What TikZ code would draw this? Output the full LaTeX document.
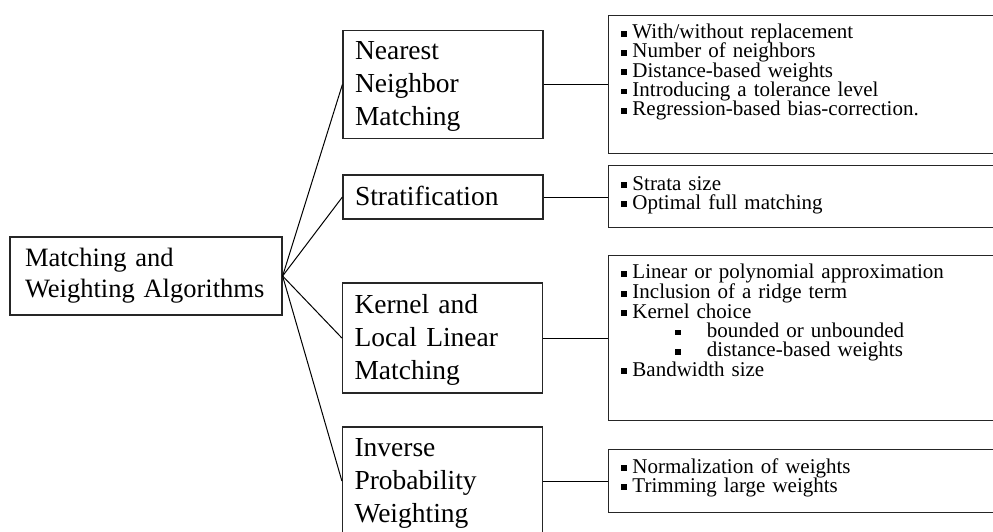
\documentclass[tikz,border=0pt]{standalone}
\usepackage{fontspec}
\setmainfont{Liberation Serif}
\newcommand{\sqbul}{\rule[0.1em]{0.28em}{0.28em}}
\newcommand{\itm}[1]{\sqbul\hspace{5.5pt}#1}
\newcommand{\subitm}[1]{\hspace{54pt}\sqbul\hspace{26pt}#1}
\begin{document}
\begin{tikzpicture}[x=1pt,y=-1pt,line width=1pt,
  box/.style={draw,line width=1.2pt,draw=black!85,inner ysep=0pt},
  mainbox/.style={box,minimum width=272pt,minimum height=78pt,inner xsep=15pt,text width=242pt,align=left,font=\fontsize{26.5}{31}\selectfont},
  midbox/.style={box,minimum width=200pt,minimum height=108pt,inner xsep=12pt,text width=176pt,text height=22pt,align=left,font=\fontsize{27.5}{33}\selectfont},
  listbox/.style={box,anchor=north west,inner xsep=13pt,inner ysep=4pt,text width=400pt,align=left,font=\fontsize{21}{19.3}\selectfont}]

\useasboundingbox (0,0) rectangle (993,531);
\clip (0,0) rectangle (993,531);

% racine
\node [mainbox] (algo) at (146,276) {Matching and\\Weighting Algorithms};

% methodes
\node [midbox] (nn) at (443,84.5) {Nearest\\Neighbor\\Matching};
\node [midbox,minimum height=44pt,text height=18pt] (strat) at (443,197) {Stratification};
\node [midbox,minimum height=110pt] (kern) at (442.5,338) {Kernel and\\Local Linear\\Matching};
\node [midbox] (ipw) at (442.5,481) {Inverse\\Probability\\Weighting};

% options
\node [listbox,text height=19pt,text depth=111pt] (nnopt) at (607.5,15) {\itm{With/without replacement}\\\itm{Number of neighbors}\\\itm{Distance-based weights}\\\itm{Introducing a tolerance level}\\\itm{Regression-based bias-correction.}};
\node [listbox,text height=20.5pt,text depth=33.5pt] (stratopt) at (607.5,165) {\itm{Strata size}\\\itm{Optimal full matching}};
\node [listbox,text height=19pt,text depth=138pt] (kernopt) at (607.5,255) {\itm{Linear or polynomial approximation}\\\itm{Inclusion of a ridge term}\\\itm{Kernel choice}\\\subitm{bounded or unbounded}\\\subitm{distance-based weights}\\\itm{Bandwidth size}};
\node [listbox,text height=19.5pt,text depth=35.5pt] (ipwopt) at (607.5,449) {\itm{Normalization of weights}\\\itm{Trimming large weights}};

% liens
\draw (algo.east) -- (nn.west);
\draw (algo.east) -- (strat.west);
\draw (algo.east) -- (kern.west);
\draw (algo.east) -- (ipw.west);
\draw (nn.east) -- (nn.east -| nnopt.west);
\draw (strat.east) -- (strat.east -| stratopt.west);
\draw (kern.east) -- (kern.east -| kernopt.west);
\draw (ipw.east) -- (ipw.east -| ipwopt.west);

\end{tikzpicture}
\end{document}
